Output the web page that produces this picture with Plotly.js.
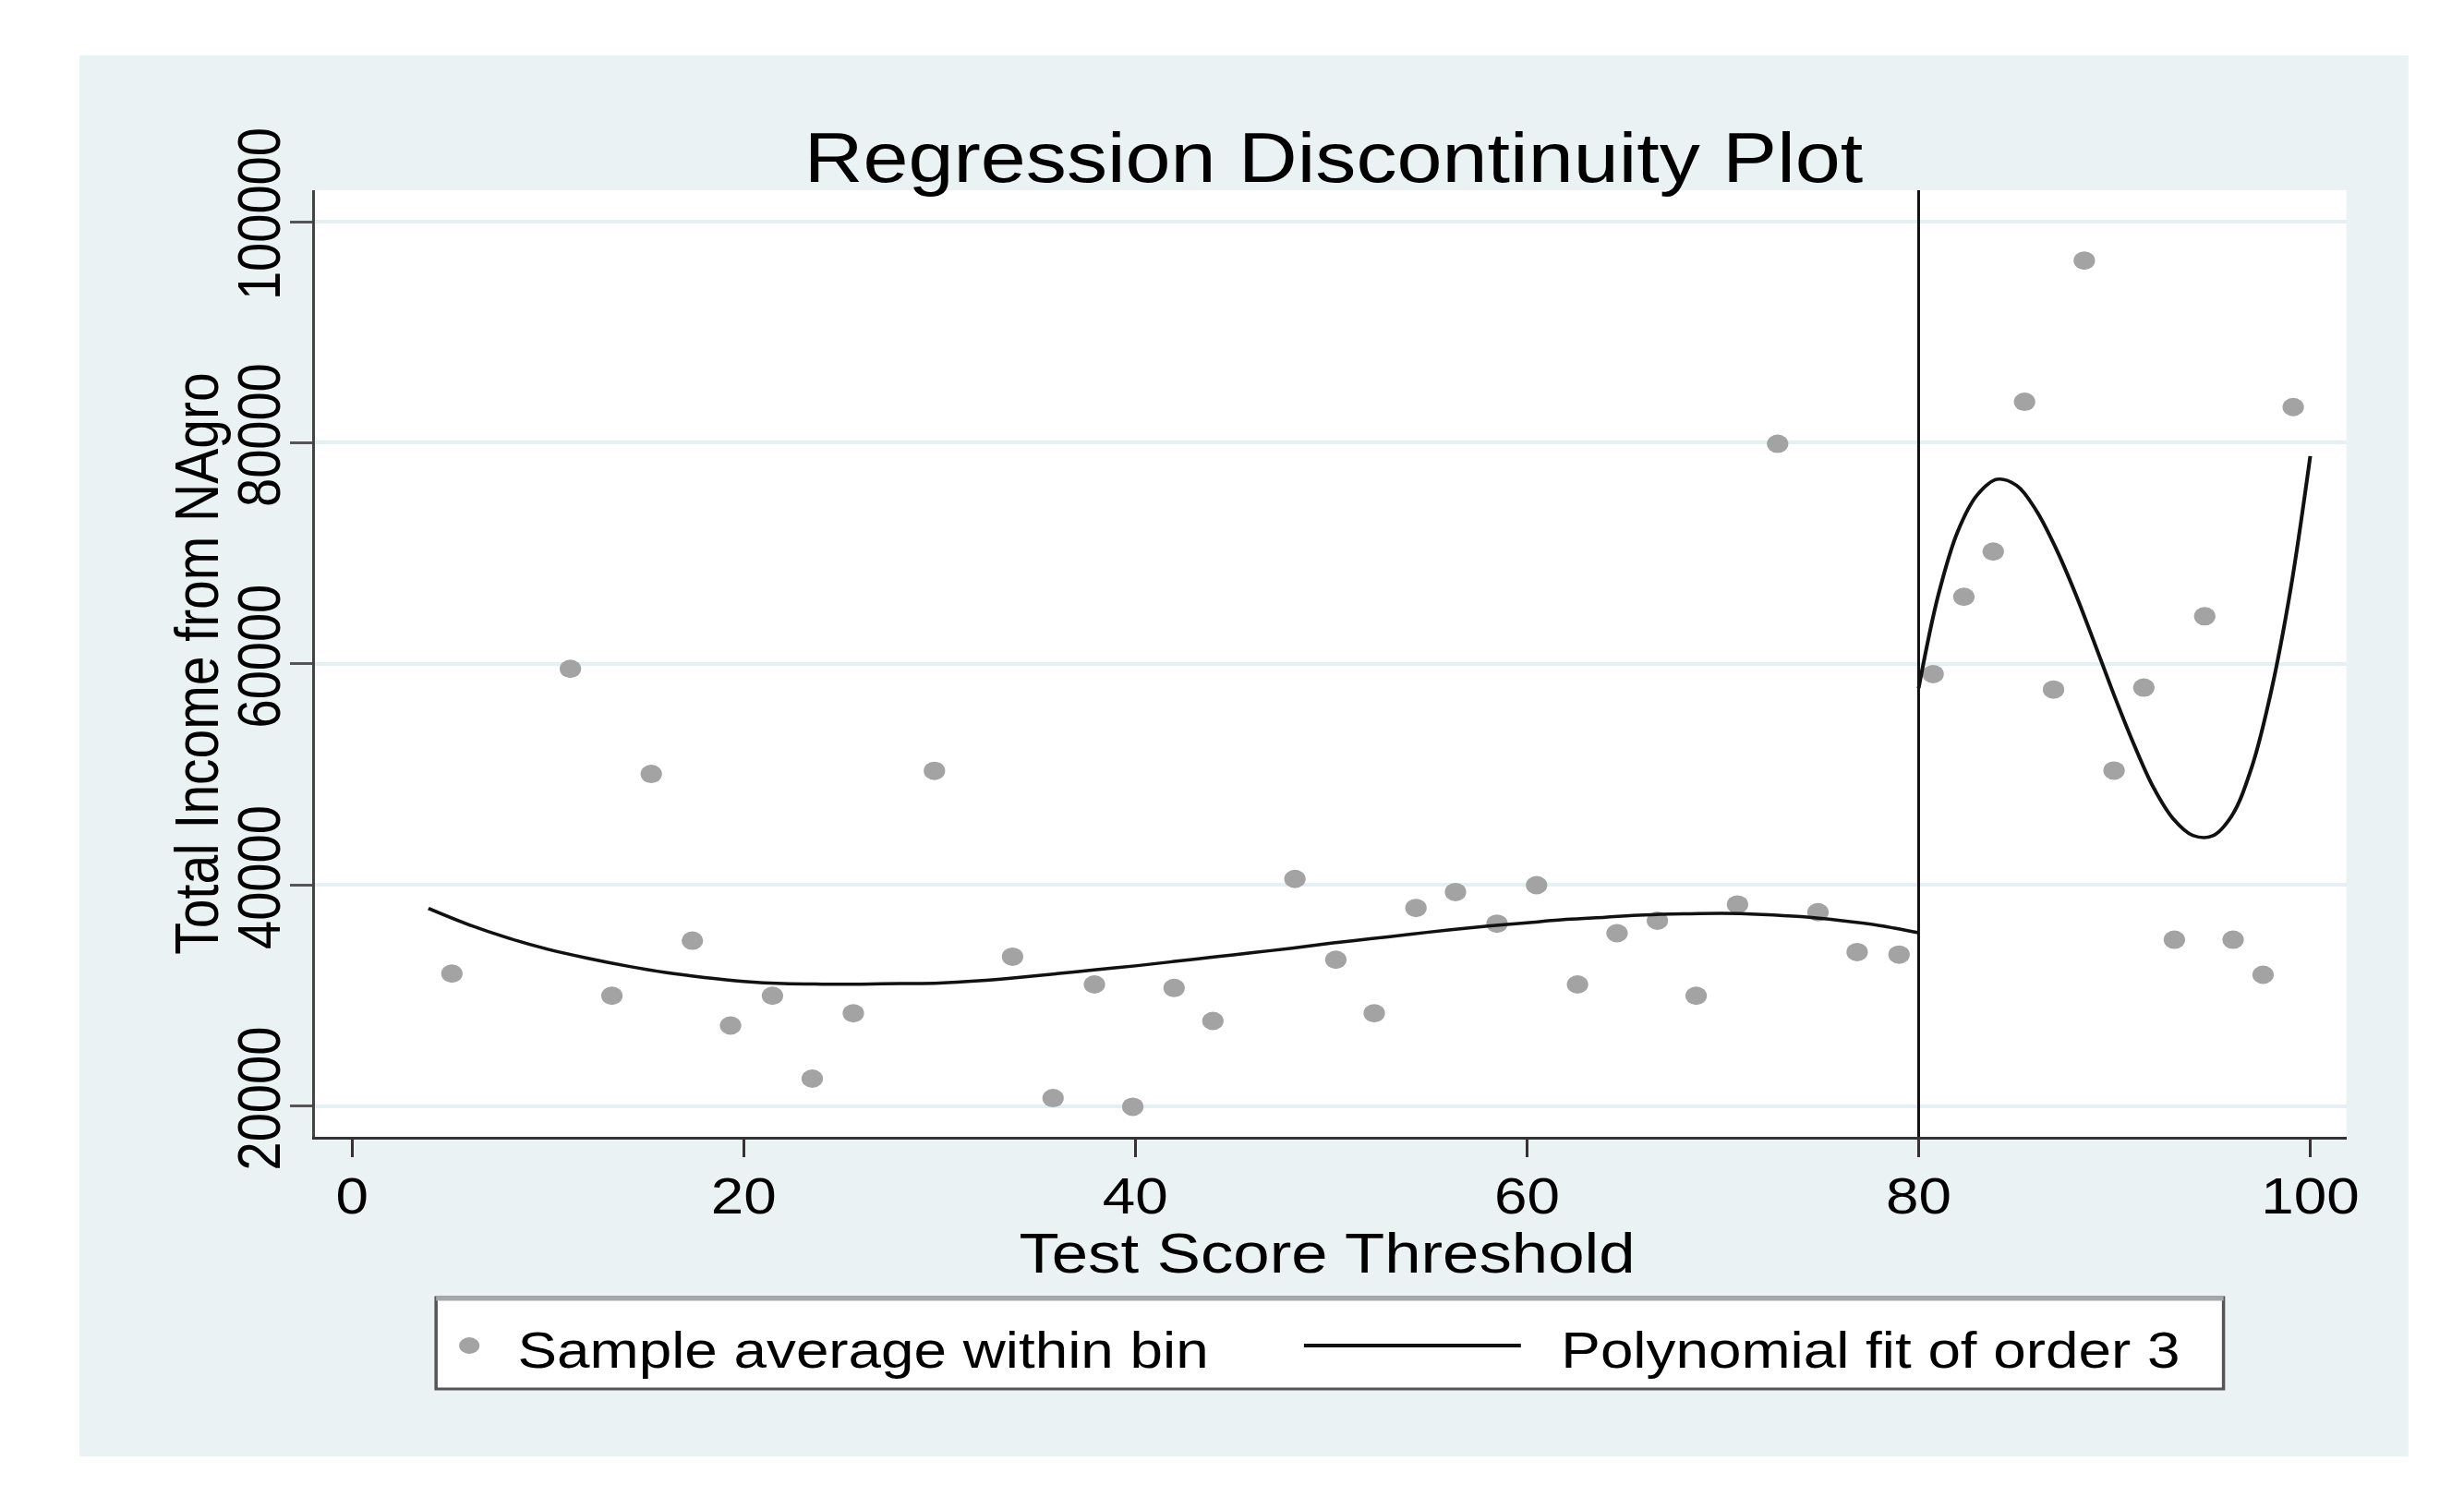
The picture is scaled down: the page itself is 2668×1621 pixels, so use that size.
<!DOCTYPE html>
<html>
<head>
<meta charset="utf-8">
<script src="https://cdn.plot.ly/plotly-3.0.1.min.js"></script>
<style>
  html, body { margin: 0; padding: 0; background: #ffffff; width: 2668px; height: 1621px; overflow: hidden; }
  #chart { position: absolute; left: 86px; top: 60px; transform-origin: 0 0; }
</style>
</head>
<body>
<div id="chart"></div>
<script>
// Bin averages, left of cutoff
const binXLeft = [5.1, 11.15, 13.27, 15.28, 17.38, 19.33, 21.47, 23.5, 25.6, 29.74, 33.73, 35.8, 37.91, 39.87, 41.98, 43.96, 48.15, 50.24, 52.2, 54.33, 56.35, 58.47, 60.49, 62.58, 64.6, 66.66, 68.64, 70.75, 72.8, 74.86, 76.86, 79.0];
const binYLeft = [32000, 59560, 30000, 50050, 34980, 27300, 30000, 22500, 28420, 50340, 33530, 20740, 31020, 19960, 30700, 27720, 40560, 33250, 28420, 37940, 39380, 36520, 40000, 31020, 35650, 36780, 30000, 38250, 79910, 37550, 33950, 33720];
// Bin averages, right of cutoff
const binXRight = [80.74, 82.31, 83.81, 85.41, 86.89, 88.46, 89.98, 91.5, 93.06, 94.61, 96.06, 97.59, 99.13];
const binYRight = [59090, 66070, 70170, 83710, 57690, 96480, 50360, 57860, 35060, 64310, 35060, 31900, 83240];
// Polynomial fit (order 3)
const fitXLeft = [3.9, 6, 8, 10, 12, 14, 16, 18, 20, 22, 24, 26, 28, 30, 32, 34, 36, 38, 40, 42, 44, 46, 48, 50, 52, 54, 56, 58, 60, 62, 64, 66, 68, 70, 72, 74, 76, 78, 80];
const fitYLeft = [37900, 36400, 35200, 34200, 33400, 32700, 32100, 31650, 31300, 31100, 31050, 31050, 31100, 31150, 31350, 31650, 32000, 32350, 32700, 33100, 33500, 33900, 34300, 34750, 35150, 35550, 35950, 36300, 36600, 36900, 37100, 37300, 37400, 37450, 37350, 37150, 36800, 36350, 35700];
const fitXRight = [80, 81, 82, 83, 84, 85, 86, 87, 88, 89, 90, 91, 92, 93, 94, 95, 96, 97, 98, 99, 100];
const fitYRight = [57800, 66200, 72000, 75300, 76700, 76150, 73900, 70500, 66400, 61800, 57100, 52700, 48800, 46000, 44500, 44450, 46300, 50600, 57500, 66800, 78800];
// Axis ticks
const xTicks = [0, 20, 40, 60, 80, 100];
const yTicks = [20000, 40000, 60000, 80000, 100000];
const cutoff = 80;

const FONT = '"Liberation Sans", Arial, sans-serif';
const dotColor = '#a3a3a3';

// The original graphic is stretched horizontally; reproduce with a CSS scaleX.
const K = 1.16;
const OX = 86, OY = 60, OW = 2522, OH = 1517;      // outer box on the page
const W = Math.round(OW / K), H = OH;               // internal plot size
const L = (341 - OX) / K, R = W - (2541 - OX) / K, T = 146, B = OH - (1231 - OY);
const pw = W - L - R, ph = H - T - B;
// page coordinates -> paper coordinates
const pxo = ox => ((ox - OX) / K - L) / pw;
const pyo = oy => (H - B - (oy - OY)) / ph;

const chart = document.getElementById('chart');
chart.style.width = W + 'px';
chart.style.height = H + 'px';
chart.style.transform = 'scaleX(' + K + ')';

const traces = [
  { x: binXLeft, y: binYLeft, type: 'scatter', mode: 'markers', name: 'Sample average within bin',
    marker: { color: dotColor, size: 20 }, showlegend: false },
  { x: binXRight, y: binYRight, type: 'scatter', mode: 'markers', name: 'Sample average within bin',
    marker: { color: dotColor, size: 20 }, showlegend: false },
  { x: fitXLeft, y: fitYLeft, type: 'scatter', mode: 'lines', name: 'Polynomial fit of order 3',
    line: { color: '#111111', width: 3.5, shape: 'spline', smoothing: 1 }, showlegend: false },
  { x: fitXRight, y: fitYRight, type: 'scatter', mode: 'lines', name: 'Polynomial fit of order 3',
    line: { color: '#111111', width: 3.5, shape: 'spline', smoothing: 1 }, showlegend: false }
];

const legY = 1457;
const layout = {
  width: W, height: H,
  paper_bgcolor: '#eaf2f3',
  plot_bgcolor: '#ffffff',
  margin: { l: L, r: R, t: T, b: B, pad: 0 },
  font: { family: FONT, color: '#000000' },
  showlegend: false,
  title: {
    text: 'Regression Discontinuity Plot',
    font: { family: FONT, size: 76, color: '#000000' },
    xref: 'container', yref: 'container',
    x: ((1444 - OX) / K) / W, xanchor: 'center',
    y: 1 - 110 / H, yanchor: 'middle'
  },
  xaxis: {
    range: [-1.886, 101.84],
    tickvals: xTicks,
    ticktext: xTicks.map(String),
    ticks: 'outside', ticklen: 19, tickwidth: 3 / K, tickcolor: '#333333',
    ticklabelstandoff: -5,
    showline: true, linecolor: '#333333', linewidth: 3,
    showgrid: false, zeroline: false,
    tickfont: { family: FONT, size: 55, color: '#000000' }
  },
  yaxis: {
    range: [17240, 102840],
    tickvals: yTicks,
    ticktext: yTicks.map(String),
    tickangle: -90,
    ticks: 'outside', ticklen: 24 / K, tickwidth: 3, tickcolor: '#555555',
    ticklabelstandoff: -13,
    showline: true, linecolor: '#444444', linewidth: 3 / K,
    showgrid: true, gridcolor: '#e6eff1', gridwidth: 4,
    zeroline: false,
    tickfont: { family: FONT, size: 56, color: '#000000' }
  },
  shapes: [
    { type: 'line', xref: 'x', yref: 'paper', x0: cutoff, x1: cutoff, y0: 0, y1: 1,
      line: { color: '#111111', width: 3 / K } },
    // legend box
    { type: 'rect', xref: 'paper', yref: 'paper', x0: pxo(472), x1: pxo(2408), y0: pyo(1405), y1: pyo(1504),
      fillcolor: '#ffffff', line: { color: '#555555', width: 3 }, layer: 'below' },
    { type: 'line', xref: 'paper', yref: 'paper', x0: pxo(472), x1: pxo(2408), y0: pyo(1406), y1: pyo(1406),
      line: { color: '#a5a8a8', width: 5 } },
    // legend marker
    { type: 'circle', xref: 'paper', yref: 'paper', xsizemode: 'pixel', ysizemode: 'pixel',
      xanchor: pxo(508), yanchor: pyo(legY), x0: -9.5, x1: 9.5, y0: -9, y1: 9,
      fillcolor: dotColor, line: { width: 0 } },
    // legend line
    { type: 'line', xref: 'paper', yref: 'paper', x0: pxo(1412), x1: pxo(1647), y0: pyo(legY), y1: pyo(legY),
      line: { color: '#111111', width: 4 } }
  ],
  annotations: [
    { xref: 'paper', yref: 'paper', x: pxo(558), y: pyo(1462), xanchor: 'left', yanchor: 'middle',
      text: 'Sample average within bin', showarrow: false, font: { family: FONT, size: 55, color: '#000000' } },
    { xref: 'paper', yref: 'paper', x: pxo(1688), y: pyo(1462), xanchor: 'left', yanchor: 'middle',
      text: 'Polynomial fit of order 3', showarrow: false, font: { family: FONT, size: 55, color: '#000000' } },
    // axis titles
    { xref: 'paper', yref: 'paper', x: pxo(1437), y: pyo(1357), xanchor: 'center', yanchor: 'middle',
      text: 'Test Score Threshold', showarrow: false, font: { family: FONT, size: 61, color: '#000000' } },
    { xref: 'paper', yref: 'paper', x: pxo(213), y: pyo(719), xanchor: 'center', yanchor: 'middle',
      text: 'Total Income from NAgro', textangle: -90, showarrow: false, font: { family: FONT, size: 57, color: '#000000' } }
  ]
};

Plotly.newPlot('chart', traces, layout, { displayModeBar: false, staticPlot: true });
</script>
</body>
</html>
